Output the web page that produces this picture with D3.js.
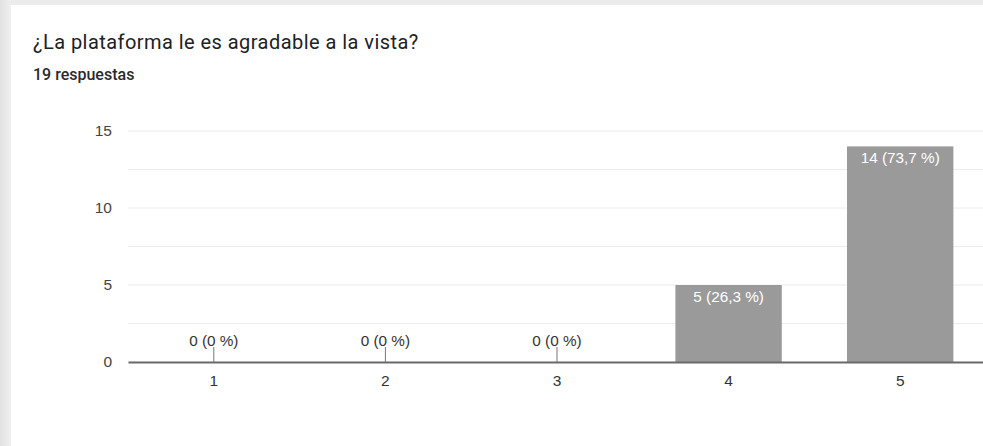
<!DOCTYPE html>
<html>
<head>
<meta charset="utf-8">
<script src="https://cdn.jsdelivr.net/npm/d3@7"></script>
<style>
  html, body { margin: 0; padding: 0; background: #e9e9e9; }
  svg { display: block; }
</style>
</head>
<body>
<svg id="chart" width="983" height="446"></svg>
<script>
// Survey question, rating categories and answer counts
const title = "¿La plataforma le es agradable a la vista?";
const subtitle = "19 respuestas";
const categories = ["1", "2", "3", "4", "5"];
const counts = [0, 0, 0, 5, 14];
const percentLabels = ["0 %", "0 %", "0 %", "26,3 %", "73,7 %"];
const yTicks = [0, 5, 10, 15];
const yGrid = [0, 2.5, 5, 7.5, 10, 12.5, 15];

const svg = d3.select("#chart");
const W = 983, H = 446;

// gray page background with a soft edge and a white card
const defs = svg.append("defs");
const grad = defs.append("linearGradient").attr("id", "edge").attr("x1", 0).attr("x2", 1);
grad.append("stop").attr("offset", 0).attr("stop-color", "#e2e2e2");
grad.append("stop").attr("offset", 1).attr("stop-color", "#efefef");
svg.append("rect").attr("width", W).attr("height", H).attr("fill", "#ececec");
svg.append("rect").attr("x", 0).attr("y", 0).attr("width", 11).attr("height", H).attr("fill", "url(#edge)");
svg.append("rect").attr("x", 11).attr("y", 5).attr("width", W - 11).attr("height", H - 5).attr("fill", "#ffffff");

const titleFont = "Roboto, Arial, sans-serif";
const font = "'Liberation Sans', Arial, sans-serif";

svg.append("text").attr("x", 33).attr("y", 48.5)
  .attr("font-family", titleFont).attr("font-size", 20).attr("letter-spacing", 0.45)
  .attr("fill", "#202124")
  .text(title);
svg.append("text").attr("x", 33).attr("y", 80)
  .attr("font-family", titleFont).attr("font-size", 16).attr("font-weight", 500)
  .attr("fill", "#2a2a2a")
  .text(subtitle);

const plotLeft = 128, plotRight = 986, plotTop = 131, plotBottom = 362;

const x = d3.scaleBand().domain(categories).range([plotLeft, plotRight]).paddingInner(0.38).paddingOuter(0.19);
const y = d3.scaleLinear().domain([0, 15]).range([plotBottom, plotTop]);

// horizontal gridlines
svg.append("g").selectAll("line").data(yGrid).join("line")
  .attr("x1", plotLeft).attr("x2", plotRight)
  .attr("y1", d => y(d)).attr("y2", d => y(d))
  .attr("stroke", "#ececec").attr("stroke-width", 1);

// y-axis labels
const yAxis = svg.append("g").attr("transform", `translate(${plotLeft},0)`)
  .call(d3.axisLeft(y).tickValues(yTicks).tickSize(0).tickPadding(16));
yAxis.select(".domain").remove();
yAxis.selectAll("text").attr("font-family", font).attr("font-size", 15.5).attr("fill", "#444");

const data = categories.map((c, i) => ({ c, v: counts[i], p: percentLabels[i] }));

// bars
svg.append("g").selectAll("rect").data(data.filter(d => d.v > 0)).join("rect")
  .attr("x", d => x(d.c)).attr("width", x.bandwidth())
  .attr("y", d => y(d.v)).attr("height", d => y(0) - y(d.v))
  .attr("fill", "#9a9a9a");

// value labels: inside the top of nonzero bars, above a stem for empty ones
const lab = svg.append("g").attr("font-family", font).attr("font-size", 15.3).attr("text-anchor", "middle");
data.forEach(d => {
  const cx = x(d.c) + x.bandwidth() / 2;
  const txt = `${d.v} (${d.p})`;
  if (d.v > 0) {
    lab.append("text").attr("x", cx).attr("y", y(d.v) + 17).attr("fill", "#ffffff").text(txt);
  } else {
    lab.append("line").attr("x1", cx).attr("x2", cx).attr("y1", y(0) - 15).attr("y2", y(0))
      .attr("stroke", "#777").attr("stroke-width", 1);
    lab.append("text").attr("x", cx).attr("y", y(0) - 16).attr("fill", "#333").text(txt);
  }
});

// baseline and category labels
const xAxis = svg.append("g").attr("transform", `translate(0,${plotBottom})`)
  .call(d3.axisBottom(x).tickSize(0).tickPadding(13));
xAxis.select(".domain").attr("stroke", "#6a6a6a").attr("stroke-width", 2);
xAxis.selectAll("text").attr("font-family", font).attr("font-size", 15.5).attr("fill", "#333");
</script>
</body>
</html>
